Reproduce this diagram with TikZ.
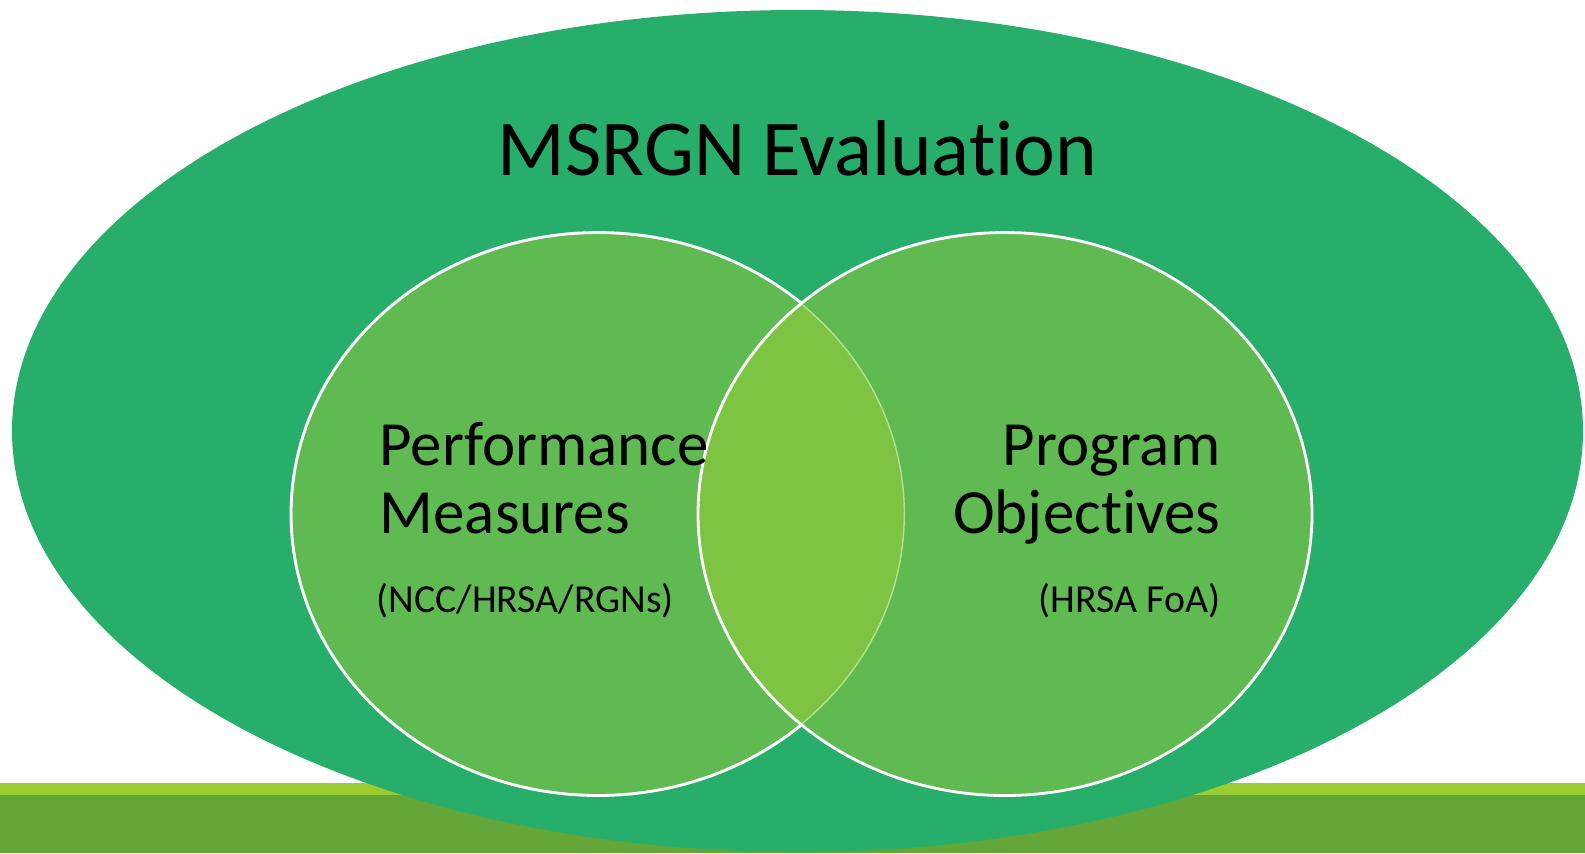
\documentclass[tikz,border=0pt]{standalone}
\usepackage{fontspec}
\setmainfont{Carlito}[RawFeature=-liga]
\usepackage{tikz}
\usetikzlibrary{positioning}
\definecolor{outergreen}{RGB}{39,174,106}
\definecolor{vennfill}{RGB}{95,186,82}
\definecolor{overlapfill}{RGB}{125,196,67}
\definecolor{stripgreen}{RGB}{154,205,50}
\definecolor{groundgreen}{RGB}{100,166,55}
\tikzstyle{ring} = [draw=white, line width=0.8pt]
\tikzstyle{titletext} = [font=\fontsize{22.5}{27}\selectfont, inner sep=0pt]
\tikzstyle{bigtext} = [font=\fontsize{17.9}{22}\selectfont, inner sep=0pt]
\tikzstyle{subtext} = [font=\fontsize{11.3}{14}\selectfont, inner sep=0pt]

\begin{document}
\begin{tikzpicture}[x=0.01cm, y=-0.01cm]
    \useasboundingbox (0,0) rectangle (1585,853);
    % Ground band
    \fill [stripgreen] (0,783) rectangle (1585,795);
    \fill [groundgreen] (0,795) rectangle (1585,853);

    % Outer ellipse
    \fill [outergreen] (797.5,431) ellipse [x radius=785.5, y radius=421];

    % Venn circles
    \fill [vennfill] (598,514) ellipse [x radius=307, y radius=281.5];
    \draw [ring] (598,514) ellipse [x radius=307, y radius=281.5];
    \fill [vennfill] (1005,514) ellipse [x radius=307, y radius=281.5];
    \begin{scope}
        \clip (598,514) ellipse [x radius=307, y radius=281.5];
        \fill [overlapfill] (1005,514) ellipse [x radius=307, y radius=281.5];
        \draw [ring, draw opacity=0.45] (598,514) ellipse [x radius=307, y radius=281.5];
    \end{scope}
    \draw [ring] (1005,514) ellipse [x radius=307, y radius=281.5];

    % Texts
    \node (title) at (797.5,175) [titletext, anchor=base] {MSRGN Evaluation};
    \node (perf) at (379,465) [bigtext, anchor=base west] {Performance};
    \node (meas) at (379,533) [bigtext, anchor=base west] {Measures};
    \node (perfsrc) at (376,612) [subtext, anchor=base west] {(NCC/HRSA/RGNs)};
    \node (prog) at (1221,465) [bigtext, anchor=base east] {Program};
    \node (obj) at (1221,533) [bigtext, anchor=base east] {Objectives};
    \node (progsrc) at (1221,612) [subtext, anchor=base east] {(HRSA FoA)};
\end{tikzpicture}
\end{document}
